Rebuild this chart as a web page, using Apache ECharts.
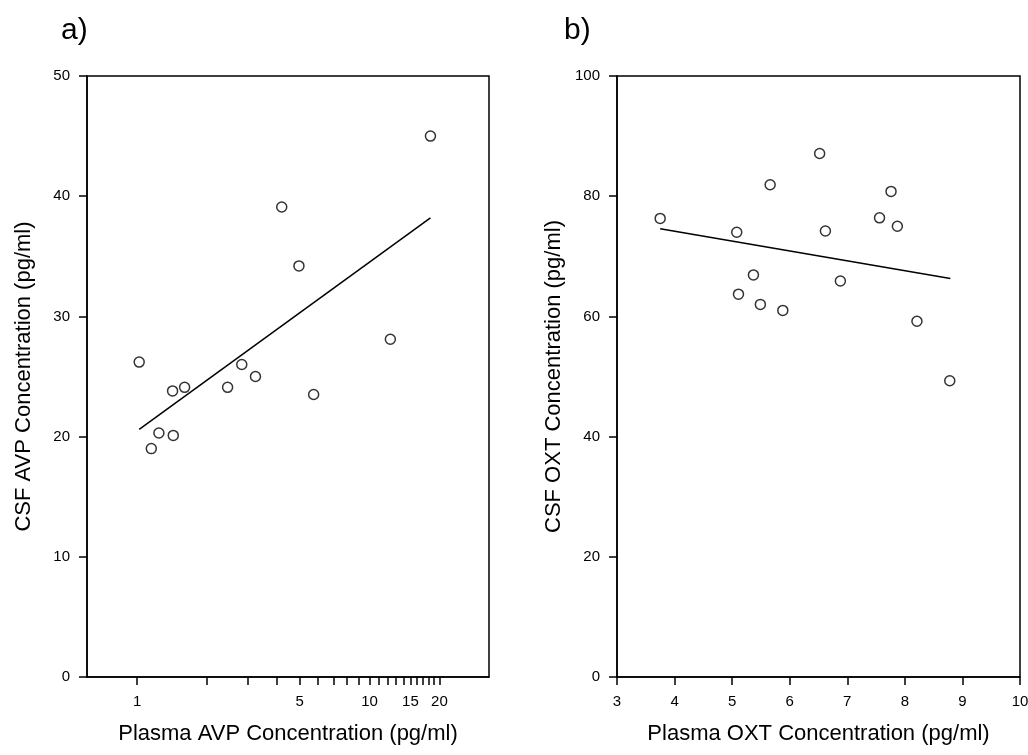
<!DOCTYPE html>
<html>
<head>
<meta charset="utf-8">
<script src="https://cdn.jsdelivr.net/npm/echarts@6/dist/echarts.min.js"></script>
<style>
html,body{margin:0;padding:0;background:#fff;}
#chart{width:1028px;height:755px;}
</style>
</head>
<body>
<div id="chart"></div>
<script>
// Panel a) Plasma AVP vs CSF AVP
const avpPlasma = [1.02, 1.15, 1.24, 1.42, 1.43, 1.60, 2.45, 2.82, 3.23, 4.19, 4.97, 5.75, 12.3, 18.3];
const avpCSF    = [26.2, 19.0, 20.3, 23.8, 20.1, 24.1, 24.1, 26.0, 25.0, 39.1, 34.2, 23.5, 28.1, 45.0];
const avpFitX = [1.02, 18.3];
const avpFitY = [20.6, 38.2];
const avpTickLabels = [1, 5, 10, 15, 20];
const avpTicks = [1,2,3,4,5,6,7,8,9,10,11,12,13,14,15,16,17,18,19,20];

// Panel b) Plasma OXT vs CSF OXT
const oxtPlasma = [3.75, 6.52, 5.66, 7.76, 7.56, 7.87, 5.08, 6.62, 5.37, 6.88, 5.11, 5.49, 5.88, 8.21, 8.78];
const oxtCSF    = [76.3, 87.1, 81.9, 80.8, 76.4, 75.0, 74.0, 74.2, 66.9, 65.9, 63.7, 62.0, 61.0, 59.2, 49.3];
const oxtFitX = [3.75, 8.79];
const oxtFitY = [74.6, 66.3];

const FONT = 'Liberation Sans, Arial, sans-serif';
const zip = (a, b) => a.map((v, i) => [v, b[i]]);

const axisLine = {show: true, onZero: false, lineStyle: {color: '#000', width: 1.5}};
const axisTick = {show: true, inside: false, length: 8, lineStyle: {color: '#000', width: 1.5}};
const axisLabel = {color: '#000', fontSize: 15, fontFamily: FONT, margin: 17};
const nameStyle = {color: '#000', fontSize: 22, fontFamily: FONT};

const scatterStyle = {
  type: 'scatter', symbol: 'circle', symbolSize: 10,
  itemStyle: {color: '#fff', borderColor: '#000', borderWidth: 1.5},
  z: 3
};
const lineStyle = {
  type: 'line', symbol: 'none', lineStyle: {color: '#000', width: 1.5}, silent: true, z: 2
};

const chart = echarts.init(document.getElementById('chart'), null, {renderer: 'canvas'});
chart.setOption({
  backgroundColor: '#fff',
  animation: false,
  title: [
    {text: 'a)', left: 61, top: 16, padding: 0, textStyle: {fontSize: 30, fontWeight: 'normal', fontFamily: FONT, color: '#000'}},
    {text: 'b)', left: 564, top: 16, padding: 0, textStyle: {fontSize: 30, fontWeight: 'normal', fontFamily: FONT, color: '#000'}}
  ],
  grid: [
    {left: 87, right: 539, top: 76, bottom: 78, show: true, borderColor: '#000', borderWidth: 1.5, containLabel: false, outerBoundsMode: 'none'},
    {left: 617, right: 8, top: 76, bottom: 78, show: true, borderColor: '#000', borderWidth: 1.5, containLabel: false, outerBoundsMode: 'none'}
  ],
  xAxis: [
    {
      gridIndex: 0, type: 'log', logBase: 10, min: 0.608, max: 32.7,
      name: 'Plasma AVP Concentration (pg/ml)', nameLocation: 'middle', nameGap: 46, nameTextStyle: nameStyle,
      axisLine: axisLine,
      axisTick: Object.assign({}, axisTick, {customValues: avpTicks}),
      axisLabel: Object.assign({}, axisLabel, {customValues: avpTickLabels}),
      splitLine: {show: false}, minorTick: {show: false}
    },
    {
      gridIndex: 1, type: 'value', min: 3, max: 10, interval: 1,
      name: 'Plasma OXT Concentration (pg/ml)', nameLocation: 'middle', nameGap: 46, nameTextStyle: nameStyle,
      axisLine: axisLine, axisTick: axisTick, axisLabel: axisLabel,
      splitLine: {show: false}
    }
  ],
  yAxis: [
    {
      gridIndex: 0, type: 'value', min: 0, max: 50, interval: 10,
      name: 'CSF AVP Concentration (pg/ml)', nameLocation: 'middle', nameGap: 52, nameTextStyle: nameStyle,
      axisLine: axisLine, axisTick: axisTick, axisLabel: axisLabel,
      splitLine: {show: false}
    },
    {
      gridIndex: 1, type: 'value', min: 0, max: 100, interval: 20,
      name: 'CSF OXT Concentration (pg/ml)', nameLocation: 'middle', nameGap: 52, nameTextStyle: nameStyle,
      axisLine: axisLine, axisTick: axisTick, axisLabel: axisLabel,
      splitLine: {show: false}
    }
  ],
  series: [
    Object.assign({}, lineStyle, {xAxisIndex: 0, yAxisIndex: 0, data: zip(avpFitX, avpFitY)}),
    Object.assign({}, scatterStyle, {xAxisIndex: 0, yAxisIndex: 0, data: zip(avpPlasma, avpCSF)}),
    Object.assign({}, lineStyle, {xAxisIndex: 1, yAxisIndex: 1, data: zip(oxtFitX, oxtFitY)}),
    Object.assign({}, scatterStyle, {xAxisIndex: 1, yAxisIndex: 1, data: zip(oxtPlasma, oxtCSF)})
  ]
});
</script>
</body>
</html>
